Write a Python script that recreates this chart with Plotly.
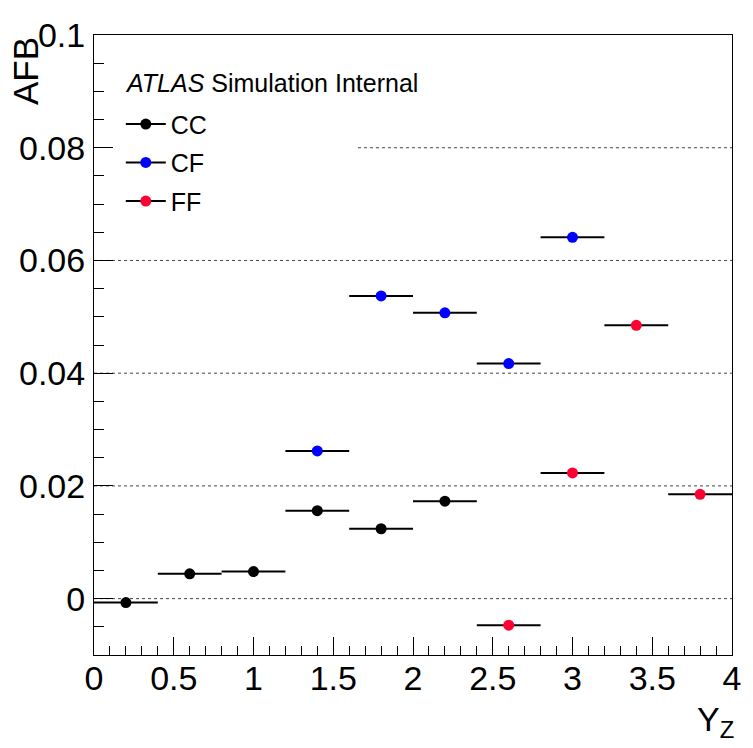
import plotly.graph_objects as go

# ---- data ----
cc_x = [0.2, 0.6, 1.0, 1.4, 1.8, 2.2]
cc_y = [-0.0007, 0.0044, 0.0048, 0.0156, 0.0124, 0.0173]
cf_x = [1.4, 1.8, 2.2, 2.6, 3.0]
cf_y = [0.0262, 0.0537, 0.0507, 0.0417, 0.0641]
ff_x = [2.6, 3.0, 3.4, 3.8]
ff_y = [-0.0047, 0.0223, 0.0485, 0.0185]
bin_half_width = 0.2

series_names = ["CC", "CF", "FF"]
series_colors = ["#000000", "#0000ff", "#ff0033"]

x_tickvals = [0, 0.5, 1, 1.5, 2, 2.5, 3, 3.5, 4]
x_ticktext = ["0", "0.5", "1", "1.5", "2", "2.5", "3", "3.5", "4"]
y_tickvals = [0, 0.02, 0.04, 0.06, 0.08, 0.1]
y_ticktext = ["0", "0.02", "0.04", "0.06", "0.08", "0.1"]
grid_vals = [0, 0.02, 0.04, 0.06, 0.08]

FONT = "Liberation Sans, Arial, Helvetica, sans-serif"

fig = go.Figure()

data = [(cc_x, cc_y), (cf_x, cf_y), (ff_x, ff_y)]
for (xs, ys), name, col in zip(data, series_names, series_colors):
    fig.add_trace(go.Scatter(
        x=xs, y=ys, mode="markers", name=name, showlegend=False,
        marker=dict(color=col, size=11, line=dict(width=0)),
        error_x=dict(type="constant", value=bin_half_width, color="black",
                     thickness=2, width=0),
        cliponaxis=True,
    ))

# legend entries (line + marker icons), one legend per row
legend_keys = ["legend", "legend2", "legend3"]
for name, col, lk in zip(series_names, series_colors, legend_keys):
    fig.add_trace(go.Scatter(
        x=[None], y=[None], mode="lines+markers", name=name, legend=lk,
        line=dict(color="black", width=2),
        marker=dict(color=col, size=11),
        showlegend=True,
    ))

legend_common = dict(
    bgcolor="rgba(0,0,0,0)", borderwidth=0, itemwidth=40,
    font=dict(family=FONT, size=25, color="black"),
    xanchor="left", yanchor="middle", x=0.0420,
)
row_y = [0.8560, 0.7940, 0.7318]

fig.update_layout(
    width=753, height=748, autosize=False,
    margin=dict(l=94, r=16, t=35, b=93, pad=0),
    paper_bgcolor="white", plot_bgcolor="white",
    font=dict(family=FONT, color="black"),
    showlegend=True,
    legend=dict(legend_common, y=row_y[0]),
    legend2=dict(legend_common, y=row_y[1]),
    legend3=dict(legend_common, y=row_y[2]),
    xaxis=dict(
        range=[0, 4], tickvals=x_tickvals, ticktext=x_ticktext,
        ticks="inside", ticklen=18, tickwidth=1, tickcolor="black",
        minor=dict(dtick=0.1, tick0=0, ticks="inside", ticklen=9,
                   tickwidth=1, tickcolor="black", showgrid=False),
        showline=True, linecolor="black", linewidth=1, mirror=True,
        showgrid=False, zeroline=False,
        tickfont=dict(family=FONT, size=34, color="black"),
        ticklabelstandoff=-7,
    ),
    yaxis=dict(
        range=[-0.01, 0.1], tickvals=y_tickvals, ticktext=y_ticktext,
        ticks="inside", ticklen=19, tickwidth=1, tickcolor="black",
        minor=dict(dtick=0.005, tick0=0, ticks="inside", ticklen=10,
                   tickwidth=1, tickcolor="black", showgrid=False),
        showline=True, linecolor="black", linewidth=1, mirror=True,
        showgrid=False, zeroline=False,
        tickfont=dict(family=FONT, size=34, color="black"),
        ticklabelstandoff=1,
    ),
)

# dotted horizontal grid lines (the one under the legend starts after the legend box)
legend_box_right = 0.4137
for gv in grid_vals:
    fig.add_shape(type="line", xref="x domain", yref="y",
                  x0=legend_box_right if gv == 0.08 else 0.0, x1=1.0,
                  y0=gv, y1=gv, layer="below",
                  line=dict(color="#444444", width=1, dash="dot"))

# ATLAS label
fig.add_annotation(
    text="<i>ATLAS</i> Simulation Internal", xref="paper", yref="paper",
    x=0.0460, y=0.9226, xanchor="left", yanchor="middle", showarrow=False,
    font=dict(family=FONT, size=25, color="black"),
)
# axis titles (ROOT-style: right-aligned at the axis ends)
fig.add_annotation(
    text="AFB", xref="paper", yref="paper", x=-0.108, y=1.0,
    xanchor="center", yanchor="top", textangle=-90, showarrow=False,
    font=dict(family=FONT, size=35, color="black"),
)
fig.add_annotation(
    text="Y<sub>Z</sub>", xref="paper", yref="paper", x=1.0, y=-0.07,
    xanchor="right", yanchor="top", showarrow=False, xshift=4,
    font=dict(family=FONT, size=34, color="black"),
)

fig.write_html("out.html")
